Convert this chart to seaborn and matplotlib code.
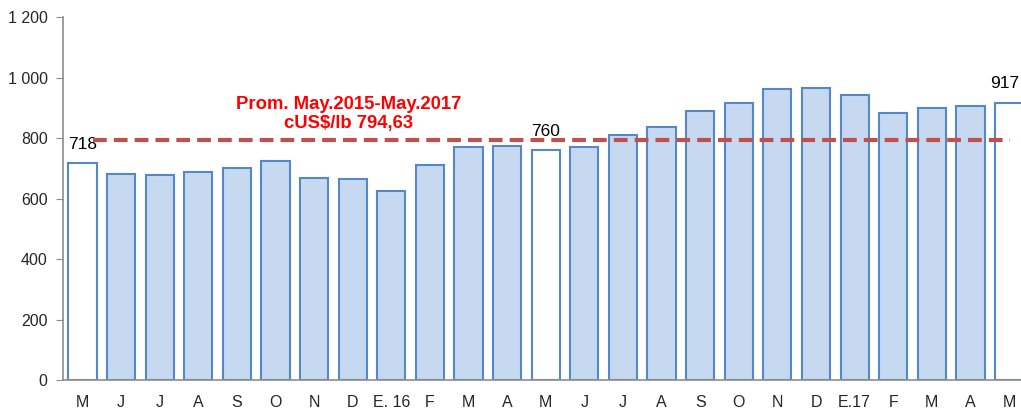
import pandas as pd
import matplotlib.pyplot as plt
import seaborn as sns

# Datos: precio del cobre (cUS$/lb), may.2015 - may.2017
months = ["M", "J", "J", "A", "S", "O", "N", "D", "E. 16", "F", "M", "A",
          "M", "J", "J", "A", "S", "O", "N", "D", "E.17", "F", "M", "A", "M"]
prices = [718, 681, 678, 689, 702, 724, 669, 665, 624, 711, 771, 775,
          760, 771, 809, 836, 889, 915, 963, 965, 942, 884, 900, 907, 917]
highlight = [0, 12, 24]          # meses de mayo, barras en blanco
labelled = [0, 12, 24]
average = 794.63
avg_text = "Prom. May.2015-May.2017\ncUS$/lb 794,63"

df = pd.DataFrame({
    "pos": range(len(prices)),
    "price": prices,
    "may": ["si" if i in highlight else "no" for i in range(len(prices))],
})

sns.set_style("white")
plt.rcParams["font.family"] = ["Liberation Sans", "DejaVu Sans"]

fig = plt.figure(figsize=(10.21, 4.08), dpi=100)
ax = fig.add_axes([0.0617, 0.0686, 0.9383, 0.8897])

sns.barplot(
    data=df, x="pos", y="price", hue="may",
    palette={"si": "white", "no": "#c6d9f1"}, saturation=1,
    dodge=False, width=0.73, edgecolor="#5588c8", linewidth=1.5,
    legend=False, ax=ax,
)

# linea del promedio
ax.hlines(average, 0.27, 24.03, colors="#c0504d", linestyles=(0, (3.3, 1.7)),
          linewidth=3, zorder=5)
ax.text(6.9, 880, avg_text, color="red", fontsize=13.3, fontweight="bold",
        ha="center", va="center", linespacing=1.15)

for i in labelled:
    # la ultima etiqueta se corre un poco para que no se corte
    xoff = -0.12 if i == len(prices) - 1 else 0
    ax.text(i + xoff, prices[i] + 62, str(prices[i]), ha="center", va="center",
            fontsize=12.5, color="black")

ax.set_ylim(0, 1200)
ax.set_xlim(-0.505, 24.31)
ax.set_yticks(range(0, 1201, 200))
ax.set_yticklabels([f"{v:,}".replace(",", " ") for v in range(0, 1201, 200)],
                   fontsize=11.5)
ax.set_xticks(range(len(months)))
ax.set_xticklabels(months, fontsize=11.5)
ax.set_xlabel("")
ax.set_ylabel("")

for s in ["top", "right"]:
    ax.spines[s].set_visible(False)
for s in ["left", "bottom"]:
    ax.spines[s].set_color("#8c8c8c")
    ax.spines[s].set_linewidth(1.2)
ax.tick_params(axis="y", left=True, length=5, color="#8c8c8c", pad=6)
ax.tick_params(axis="x", bottom=False, pad=7)

plt.savefig("out.png", dpi=100)
